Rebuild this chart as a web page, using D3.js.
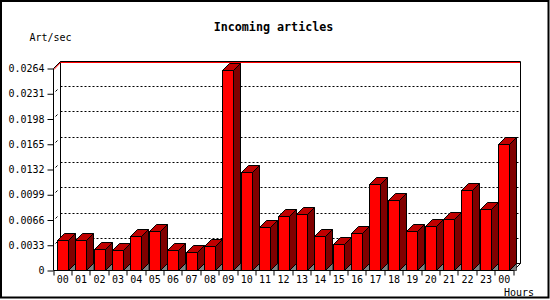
<!DOCTYPE html>
<html>
<head>
<meta charset="utf-8">
<script src="https://cdn.jsdelivr.net/npm/d3@7"></script>
<style>
  html, body { margin: 0; padding: 0; background: #fff; }
  svg { display: block; }
  text { font-family: "DejaVu Sans Mono", "Liberation Mono", monospace; fill: #000; }
</style>
</head>
<body>
<svg id="chart" width="550" height="300"></svg>
<script>
// ---- data ----
const hours = ["00","01","02","03","04","05","06","07","08","09","10","11","12","13","14","15","16","17","18","19","20","21","22","23","00"];
const artPerSec = [0.0039,0.0039,0.0028,0.0026,0.0045,0.0051,0.0026,0.0023,0.0031,0.0262,0.0128,0.0056,0.0070,0.0073,0.0045,0.0034,0.0048,0.0112,0.0092,0.0051,0.0058,0.0067,0.0104,0.0080,0.0165];
const yTickValues = [0,0.0033,0.0066,0.0099,0.0132,0.0165,0.0198,0.0231,0.0264];
const yTickLabels = ["0","0.0033","0.0066","0.0099","0.0132","0.0165","0.0198","0.0231","0.0264"];
const maxLine = 0.0264;
const titleText = "Incoming articles";
const yTitle = "Art/sec";
const xTitle = "Hours";

// ---- layout ----
const svg = d3.select("#chart");
const W = 550, H = 300;
const D = 7;                 // 3d depth
const x0 = 53.5, x1 = 513.5;
const yBase = 270.5;

svg.append("rect").attr("x",0).attr("y",0).attr("width",W).attr("height",H).attr("fill","#fff");
svg.append("rect").attr("x",1).attr("y",1).attr("width",547.5).attr("height",296.5)
  .attr("fill","none").attr("stroke","#000").attr("stroke-width",2);

const x = d3.scaleBand().domain(d3.range(hours.length)).range([x0, x1]).paddingInner(0).paddingOuter(0);
const y = d3.scaleLinear().domain([0, 0.0264]).range([270, 68]);
const py = v => Math.round(y(v)) + 0.5;

// back grid lines (dotted)
const g = svg.append("g");
yTickValues.slice(1, -1).forEach(v => {
  const yy = py(v);
  g.append("line").attr("x1", x0 + D).attr("x2", x1 + D).attr("y1", yy - D).attr("y2", yy - D)
    .attr("stroke","#000").attr("stroke-dasharray","2,2");
  g.append("line").attr("x1", x0 + 2).attr("y1", yy - 2).attr("x2", x0 + 4).attr("y2", yy - 4)
    .attr("stroke","#000");
});

// frame (back + walls)
const topY = py(0.0264);
g.append("path")
  .attr("d", `M${x0},${topY} L${x0 + D},${topY - D} L${x1 + D},${topY - D} L${x1 + D},${yBase - D} L${x1},${yBase}`)
  .attr("fill","none").attr("stroke","#000");
g.append("line").attr("x1", x0 + D).attr("x2", x0 + D).attr("y1", topY - D).attr("y2", yBase - D).attr("stroke","#000");
g.append("line").attr("x1", x0 + D).attr("x2", x1 + D).attr("y1", yBase - D).attr("y2", yBase - D).attr("stroke","#000");

// max red line
const my = py(maxLine) + 1;
g.append("path")
  .attr("d", `M${x0 + 0.5},${my} L${x0 + D},${my - D} L${x1 + D - 0.5},${my - D}`)
  .attr("fill","none").attr("stroke","#ff0000");

// bars
const bw = 11;
const bars = svg.append("g");
artPerSec.forEach((v, i) => {
  const bx = Math.round(x(i) + 3.2) + 0.5;
  const ty = py(v);
  const bb = yBase;
  // shadow on floor
  bars.append("path").attr("d", `M${bx + bw},${bb} L${bx + bw + D},${bb - D} L${bx + bw + D},${bb} Z`)
    .attr("fill","#808080").attr("stroke","#000").attr("stroke-width",0.6);
  // front
  bars.append("rect").attr("x", bx).attr("y", ty).attr("width", bw).attr("height", bb - ty)
    .attr("fill","#ff0000").attr("stroke","#000");
  // top
  bars.append("path").attr("d", `M${bx},${ty} L${bx + D},${ty - D} L${bx + bw + D},${ty - D} L${bx + bw},${ty} Z`)
    .attr("fill","#c00000").attr("stroke","#000");
  // side
  bars.append("path").attr("d", `M${bx + bw},${ty} L${bx + bw + D},${ty - D} L${bx + bw + D},${bb - D} L${bx + bw},${bb} Z`)
    .attr("fill","#800000").attr("stroke","#000");
});

// front axes
svg.append("line").attr("x1", x0).attr("x2", x0).attr("y1", topY).attr("y2", yBase).attr("stroke","#000");
svg.append("line").attr("x1", x0).attr("x2", x1).attr("y1", yBase).attr("y2", yBase).attr("stroke","#000");

// y axis ticks + labels
const yAxis = d3.axisLeft(y).tickValues(yTickValues).tickFormat((d, i) => yTickLabels[i]).tickSize(6).tickPadding(3);
const ya = svg.append("g").attr("transform", `translate(${x0},0.5)`).call(yAxis);
ya.select(".domain").remove();
ya.selectAll("line").attr("stroke","#000");
ya.selectAll("text").attr("font-size","10px").attr("font-family","DejaVu Sans Mono").attr("fill","#000");

// x ticks at band boundaries
d3.range(hours.length + 1).forEach(i => {
  const xx = Math.round(x0 + i * x.step()) + 0.5 - 0.5;
  svg.append("line").attr("x1", xx).attr("x2", xx).attr("y1", yBase).attr("y2", yBase + 5).attr("stroke","#000");
});
// x labels via axis
const xAxis = d3.axisBottom(x).tickFormat(i => hours[i]).tickSize(0).tickPadding(5);
const xa = svg.append("g").attr("transform", `translate(0,${yBase})`).call(xAxis);
xa.select(".domain").remove();
xa.selectAll("text").attr("font-size","10px").attr("font-family","DejaVu Sans Mono").attr("fill","#000");

// titles
svg.append("text").attr("x", 273.5).attr("y", 27).attr("text-anchor","middle").attr("dominant-baseline","central")
  .attr("font-size","11.7px").attr("font-weight","bold").text(titleText);
svg.append("text").attr("x", 29.5).attr("y", 37).attr("dominant-baseline","central")
  .attr("font-size","10px").text(yTitle);
svg.append("text").attr("x", 534).attr("y", 292).attr("text-anchor","end").attr("dominant-baseline","central")
  .attr("font-size","10px").text(xTitle);
</script>
</body>
</html>
